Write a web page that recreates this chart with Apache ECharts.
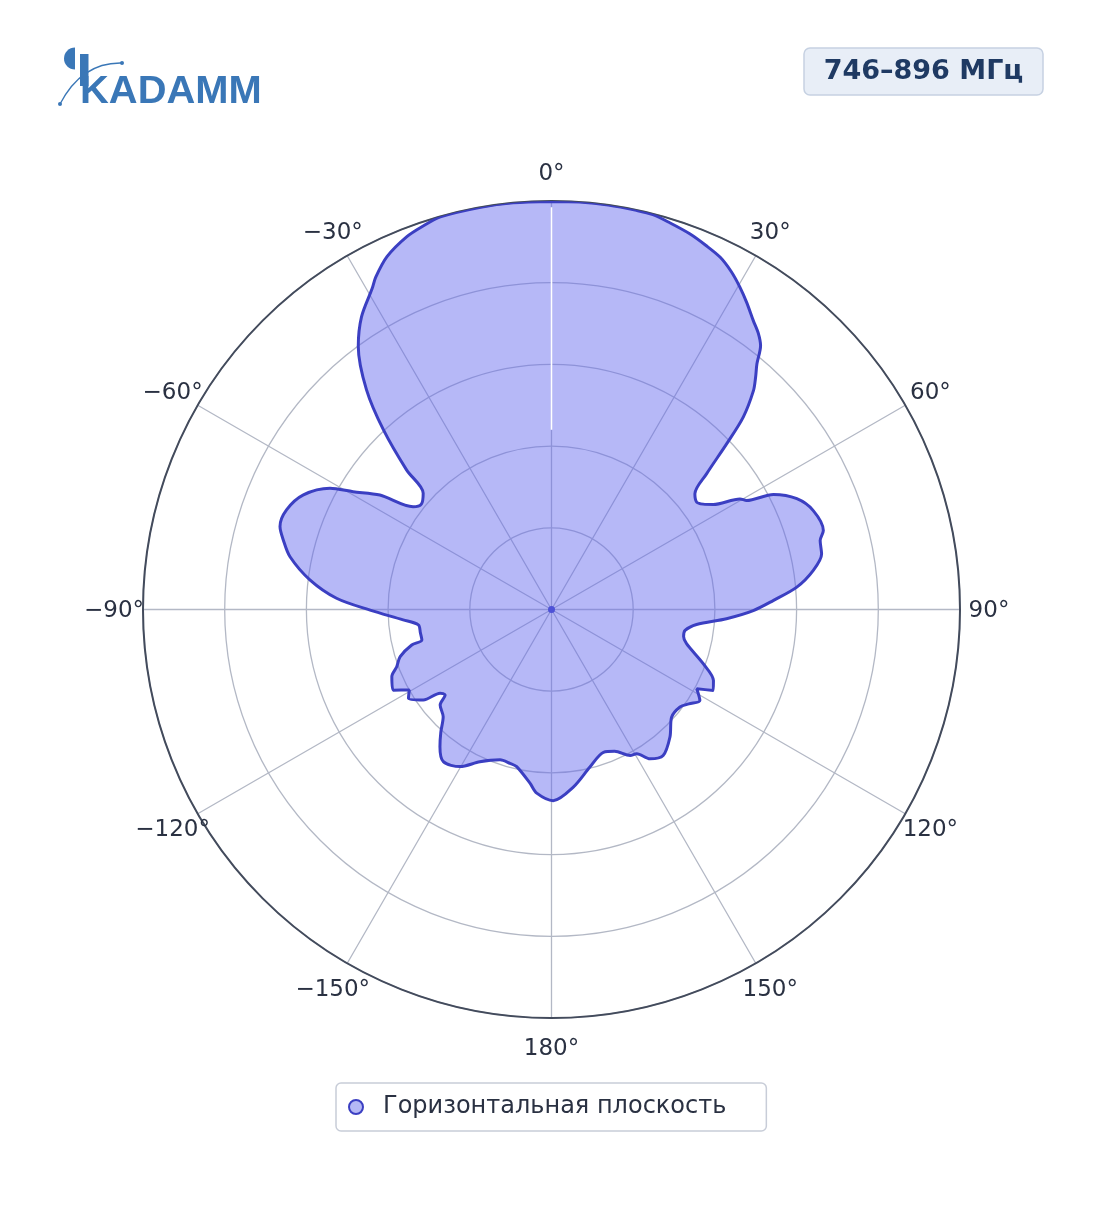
<!DOCTYPE html>
<html>
<head>
<meta charset="utf-8">
<script src="https://cdn.jsdelivr.net/npm/echarts@6/dist/echarts.min.js"></script>
<style>
html,body{margin:0;padding:0;background:#fff;}
#chart{width:1104px;height:1211px;}
</style>
</head>
<body>
<div id="chart"></div>
<script>
// Angles in degrees (clockwise from top), 0..360
var angles = [
  0, 4, 8, 12, 14.4, 17, 20.2, 23, 25.6, 28, 30.3, 32.5, 34.9, 36.8, 38.4, 39.9, 41.3, 42.7, 44.9, 46.6,
  48.8, 51.1, 53.5, 55.2, 57, 59.6, 60.8, 62.6, 65.7, 69.3, 73.8, 75.6, 78.4, 81.5, 84.8, 87.7,
  90.3, 93, 95.9, 98.9, 101.5, 104.2, 109.7, 113.7, 116.6, 118.6, 121.5, 124.5, 127.2, 131.9,
  137.1, 142.6, 146.6, 149.4, 151.7, 156, 160, 166.3, 173, 179.5,
  184.6, 187, 192.5, 195.1, 198.9, 205.2, 210.2, 215.4, 219.1, 222, 225.3, 229.4, 231.2, 233.1,
  234.8, 238.2, 240.5, 243, 247.2, 249.7, 252.7, 255.75, 256.8, 260, 263.4, 266, 269.8, 273,
  277, 281.4, 284.5, 287, 290.6, 294.8, 298.7, 300.7, 303.7, 306.6, 309, 312.2, 313.9, 316.9,
  319.9, 323.7, 327, 330.8, 332.1, 335, 338.8, 341.5, 344.2, 350, 354.6, 360
];
// Normalized gain (0..1)
var gain = [
  0.999, 1.0, 1.0, 0.999, 0.998, 0.99, 0.980, 0.968, 0.956, 0.937, 0.914, 0.89, 0.863, 0.845, 0.824, 0.784, 0.757, 0.729, 0.665, 0.590,
  0.505, 0.451, 0.442, 0.452, 0.472, 0.535, 0.547, 0.612, 0.659, 0.685, 0.693, 0.679, 0.675, 0.648, 0.603, 0.543,
  0.494, 0.429, 0.357, 0.331, 0.330, 0.341, 0.395, 0.433, 0.443, 0.405, 0.426, 0.408, 0.395, 0.395,
  0.426, 0.450, 0.438, 0.410, 0.406, 0.380, 0.372, 0.397, 0.438, 0.468,
  0.451, 0.429, 0.394, 0.390, 0.389, 0.412, 0.445, 0.457, 0.433, 0.405, 0.373, 0.359, 0.334, 0.341,
  0.384, 0.412, 0.400, 0.435, 0.424, 0.404, 0.388, 0.353, 0.326, 0.326, 0.328, 0.364, 0.444, 0.527,
  0.596, 0.653, 0.678, 0.695, 0.693, 0.669, 0.618, 0.565, 0.505, 0.422, 0.410, 0.424, 0.492, 0.602,
  0.703, 0.799, 0.854, 0.900, 0.920, 0.953, 0.979, 0.990, 0.999, 1.0, 1.0, 0.999
];
var angleTicks = [0, 30, 60, 90, 120, 150, 180, 210, 240, 270, 300, 330];
var seriesName = 'Горизонтальная плоскость';
var bandLabel = '746–896 МГц';
var logoText = 'KADAMM';

var lineColor = '#3b3fc2';
var fillColor = 'rgba(100,104,238,0.47)';
var gridColor = '#b3b8c5';
var logoColor = '#3a77b7';
var labelRadius = 1.071; // label ring just outside the outer circle

var data = angles.map(function (a, i) { return [gain[i], a]; });
var tickData = angleTicks.map(function (a) { return [labelRadius, a]; });

function fmtAngle(v) {
  if (v >= 360) return '';
  var d = v > 180 ? v - 360 : v;
  return (d < 0 ? '\u2212' + (-d) : String(d)) + '°';
}

var chart = echarts.init(document.getElementById('chart'), null, {renderer: 'canvas'});
chart.setOption({
  animation: false,
  backgroundColor: '#ffffff',
  textStyle: {fontFamily: 'DejaVu Sans'},
  polar: {center: [551.5, 609.5], radius: 408.5},
  angleAxis: {
    type: 'value', min: 0, max: 360, interval: 30, startAngle: 90, clockwise: true,
    axisLine: {show: true, lineStyle: {color: '#434b5c', width: 2}},
    axisTick: {show: false},
    axisLabel: {show: false},
    splitLine: {show: true, lineStyle: {color: gridColor, width: 1.3}}
  },
  radiusAxis: {
    type: 'value', min: 0, max: 1, interval: 0.2,
    axisLine: {show: false}, axisTick: {show: false}, axisLabel: {show: false},
    splitLine: {show: true, lineStyle: {color: gridColor, width: 1.3}}
  },
  legend: {
    left: 336, top: 1083,
    orient: 'horizontal',
    padding: [12, 40, 12, 12],
    borderColor: '#c8cdd8', borderWidth: 1.5, borderRadius: 5,
    icon: 'circle', itemWidth: 14, itemHeight: 14,
    textStyle: {fontSize: 24, color: '#2a3142', fontFamily: 'DejaVu Sans', padding: [0, 0, 0, 15]},
    data: [{name: seriesName, itemStyle: {color: '#b5b8f5', borderColor: lineColor, borderWidth: 2}}]
  },
  series: [
    {
      name: seriesName, type: 'line', coordinateSystem: 'polar',
      data: data, showSymbol: false, symbol: 'none', smooth: 0.3,
      lineStyle: {color: lineColor, width: 3},
      itemStyle: {color: lineColor},
      areaStyle: {color: fillColor, opacity: 1},
      silent: true
    },
    {
      type: 'line', coordinateSystem: 'polar',
      data: [[0.44, 0], [0.985, 0]], symbol: 'none',
      lineStyle: {color: '#ffffff', width: 1.6}, silent: true
    },
    {
      type: 'scatter', coordinateSystem: 'polar',
      data: [[0, 0]], symbol: 'circle', symbolSize: 7,
      itemStyle: {color: lineColor, opacity: 1}, silent: true
    },
    {
      type: 'scatter', coordinateSystem: 'polar', clip: false,
      data: tickData, symbolSize: 0, silent: true,
      itemStyle: {color: 'rgba(0,0,0,0)', opacity: 1},
      label: {
        show: true, position: 'inside', offset: [0, 2], fontSize: 23, color: '#2a3142', fontFamily: 'DejaVu Sans',
        formatter: function (p) { return fmtAngle(p.value[1]); }
      }
    }
  ],
  graphic: [
    {type: 'sector', shape: {cx: 75, cy: 58.5, r: 11, r0: 0, startAngle: Math.PI / 2, endAngle: Math.PI * 1.5, clockwise: true}, style: {fill: logoColor}},
    {type: 'rect', shape: {x: 80, y: 54, width: 8.5, height: 32}, style: {fill: logoColor}},
    {type: 'text', x: 80, y: 92.5, scaleX: 1.05, style: {text: logoText, fill: logoColor, font: 'bold 38px "Liberation Sans"', textAlign: 'left', textVerticalAlign: 'middle', verticalAlign: 'middle'}},
    {type: 'bezierCurve', shape: {x1: 60, y1: 104, x2: 122, y2: 63, cpx1: 82, cpy1: 62}, style: {stroke: logoColor, lineWidth: 1.3, fill: null}},
    {type: 'circle', shape: {cx: 60, cy: 104, r: 2}, style: {fill: logoColor}},
    {type: 'circle', shape: {cx: 122, cy: 63, r: 2}, style: {fill: logoColor}},
    {type: 'rect', shape: {x: 804, y: 48, width: 239, height: 47, r: 6}, style: {fill: '#e8eef7', stroke: '#c6d1e2', lineWidth: 1.5}},
    {type: 'text', x: 923.5, y: 72, style: {text: bandLabel, fill: '#1f3a63', font: 'bold 27px "DejaVu Sans"', textAlign: 'center', textVerticalAlign: 'middle', verticalAlign: 'middle'}}
  ]
});
</script>
</body>
</html>
